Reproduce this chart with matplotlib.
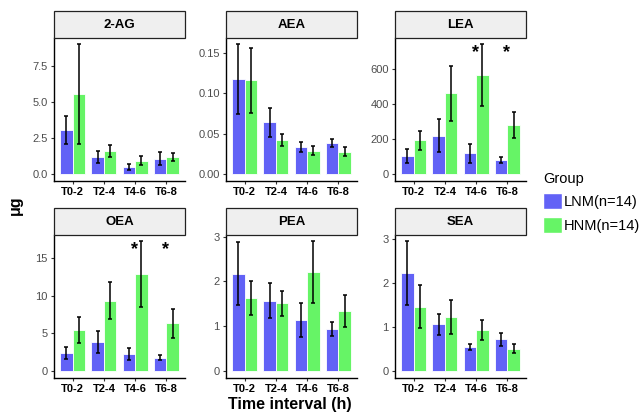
import numpy as np
import matplotlib
matplotlib.use("Agg")
import matplotlib.pyplot as plt
from matplotlib.patches import Rectangle, Patch

plt.rcParams['font.family'] = ['Liberation Sans', 'DejaVu Sans']

# data
intervals = ['T0-2', 'T2-4', 'T4-6', 'T6-8']
groups = ['LNM(n=14)', 'HNM(n=14)']
colors = ['#6262F6', '#66F466']

analytes = ['2-AG', 'AEA', 'LEA', 'OEA', 'PEA', 'SEA']

lnm_mean = {
    '2-AG': [3.06, 1.19, 0.52, 1.08],
    'AEA': [0.117, 0.064, 0.034, 0.038],
    'LEA': [104, 220, 120, 81],
    'OEA': [2.46, 3.83, 2.29, 1.80],
    'PEA': [2.17, 1.57, 1.14, 0.94],
    'SEA': [2.23, 1.07, 0.55, 0.73],
}
lnm_err = {
    '2-AG': [0.98, 0.40, 0.21, 0.45],
    'AEA': [0.043, 0.018, 0.006, 0.005],
    'LEA': [38, 95, 54, 19],
    'OEA': [0.80, 1.45, 0.80, 0.38],
    'PEA': [0.70, 0.39, 0.37, 0.15],
    'SEA': [0.72, 0.24, 0.07, 0.15],
}
hnm_mean = {
    '2-AG': [5.56, 1.64, 0.94, 1.22],
    'AEA': [0.116, 0.042, 0.029, 0.028],
    'LEA': [193, 463, 567, 282],
    'OEA': [5.45, 9.33, 12.85, 6.34],
    'PEA': [1.63, 1.51, 2.20, 1.34],
    'SEA': [1.47, 1.23, 0.94, 0.51],
}
hnm_err = {
    '2-AG': [3.45, 0.41, 0.30, 0.27],
    'AEA': [0.040, 0.007, 0.0055, 0.0055],
    'LEA': [56, 158, 175, 73],
    'OEA': [1.75, 2.45, 4.30, 1.95],
    'PEA': [0.37, 0.27, 0.69, 0.36],
    'SEA': [0.48, 0.38, 0.22, 0.10],
}
significant = {'LEA': ['T4-6', 'T6-8'], 'OEA': ['T4-6', 'T6-8']}

yticks = {
    '2-AG': [0.0, 2.5, 5.0, 7.5],
    'AEA': [0.00, 0.05, 0.10, 0.15],
    'LEA': [0, 200, 400, 600],
    'OEA': [0, 5, 10, 15],
    'PEA': [0, 1, 2, 3],
    'SEA': [0, 1, 2, 3],
}
ytick_fmt = {'2-AG': '{:.1f}', 'AEA': '{:.2f}', 'LEA': '{:.0f}',
             'OEA': '{:.0f}', 'PEA': '{:.0f}', 'SEA': '{:.0f}'}

W, H = 640, 416
fig = plt.figure(figsize=(W / 100, H / 100), dpi=100)

col_left = [54, 226, 395]
ax_w = 131
row_top = [38, 235]
ax_h = 142.7
strip_h = 26.7

x = np.arange(len(intervals))
bw = 0.4

for i, name in enumerate(analytes):
    r, c = divmod(i, 3)
    ax = fig.add_axes([col_left[c] / W, 1 - (row_top[r] + ax_h) / H, ax_w / W, ax_h / H])
    means = [lnm_mean[name], hnm_mean[name]]
    errs = [lnm_err[name], hnm_err[name]]
    for g in range(2):
        pos = x + (g - 0.5) * bw
        ax.bar(pos, means[g], width=bw, color=colors[g], edgecolor='white', linewidth=0.6, zorder=2)
        ax.errorbar(pos, means[g], yerr=errs[g], fmt='none', ecolor='black',
                    elinewidth=1.1, capsize=1.6, capthick=1.1, zorder=3)
    top = max(np.max(np.add(means[0], errs[0])), np.max(np.add(means[1], errs[1])))
    ax.set_ylim(-0.05 * top, 1.05 * top)
    ax.set_xlim(-0.6, len(intervals) - 0.4)

    # significance marks
    for lab in significant.get(name, []):
        k = intervals.index(lab)
        ax.text(x[k] - 0.03, 0.9, '*', transform=ax.get_xaxis_transform(),
                ha='center', va='center', fontsize=13, fontweight='bold')

    ax.set_xticks(x)
    ax.set_xticklabels(intervals, fontsize=8, fontweight='bold', color='black')
    ax.set_yticks(yticks[name])
    ax.set_yticklabels([ytick_fmt[name].format(v) for v in yticks[name]], fontsize=8, color='#4D4D4D')
    ax.tick_params(length=2.5, width=0.8, color='#333333', pad=2)
    for s in ['top', 'right']:
        ax.spines[s].set_visible(False)
    for s in ['left', 'bottom']:
        ax.spines[s].set_linewidth(1.0)
        ax.spines[s].set_color('black')

    # facet strip
    ax.add_patch(Rectangle((0, 1), 1, strip_h / ax_h, transform=ax.transAxes,
                           facecolor='#EFEFEF', edgecolor='#222222', linewidth=0.9,
                           clip_on=False, zorder=5))
    ax.text(0.5, 1 + strip_h / ax_h / 2, name, transform=ax.transAxes, ha='center',
            va='center', fontsize=9.5, fontweight='bold', zorder=6)

fig.text(290 / W, 1 - 405 / H, 'Time interval (h)', ha='center', va='center',
         fontsize=11.5, fontweight='bold')
fig.text(15 / W, 1 - 205 / H, 'μg', ha='center', va='center', rotation=90,
         fontsize=11.5, fontweight='bold')

handles = [Patch(facecolor=colors[g], edgecolor='white', label=groups[g]) for g in range(2)]
leg = fig.legend(handles=handles, title='Group', loc='upper left',
                 bbox_to_anchor=(537 / W, 1 - 166 / H), frameon=False,
                 fontsize=10.5, title_fontsize=10.5, handlelength=1.3, handleheight=1.35,
                 handletextpad=0.15, labelspacing=0.5, borderaxespad=0)
leg._legend_box.align = 'left'

fig.savefig('out.png', dpi=100)
